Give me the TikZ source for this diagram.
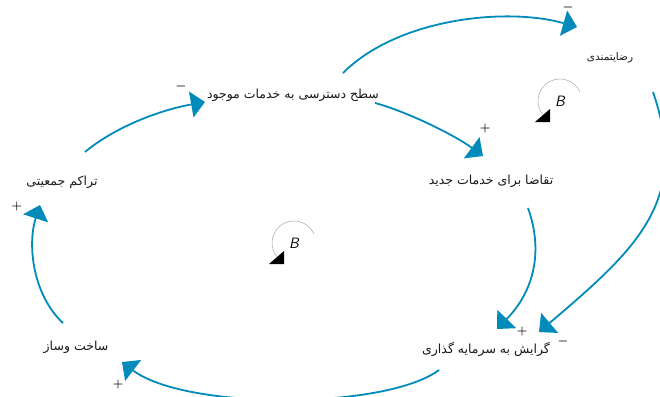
\documentclass[tikz,border=0pt]{standalone}
\usepackage{fontspec}
\newfontfamily\farsi[Script=Arabic]{DejaVu Sans}
\TeXXeTstate=1
\usetikzlibrary{arrows.meta}
\definecolor{cldblue}{RGB}{0,139,187}

\begin{document}
\begin{tikzpicture}[x=1pt,y=-1pt,
  var/.style={font=\farsi\fontsize{12.5}{15}\selectfont,text=black!90,inner sep=1pt},
  link/.style={cldblue,line width=1.8pt,-{Triangle[length=14pt,width=26pt]}},
  sgn/.style={font=\fontsize{13}{13}\selectfont\boldmath,inner sep=0pt},
  loopsign/.style={font=\fontsize{15}{15}\selectfont\sffamily\itshape,inner sep=0pt}]
\useasboundingbox (0,0) rectangle (660,396);
\clip (0,0) rectangle (660,396);
\node[var] (tarakom) at (62,182) {\beginR تراکم جمعیتی\endR};
\node[var] (sath) at (293,95) {\beginR سطح دسترسی به خدمات موجود\endR};
\node[var] (taghaza) at (491,181) {\beginR تقاضا برای خدمات جدید\endR};
\node[var,font=\farsi\fontsize{10.5}{12}\selectfont] (rezayat) at (610,58) {\beginR رضایتمندی\endR};
\node[var] (gerayesh) at (486,349) {\beginR گرایش به سرمایه گذاری\endR};
\node[var] (sakht) at (76,347) {\beginR ساخت وساز\endR};
\draw[link] ([shift={(23,-30)}]tarakom.center) .. controls +(30,-25) and +(-45,8) .. ([shift={(-88,7)}]sath.center);
\draw[link] ([shift={(50,-22)}]sath.center) .. controls +(55,-55) and +(-70,-20) .. ([shift={(-33,-31)}]rezayat.center);
\draw[link] ([shift={(82,8)}]sath.center) .. controls +(30,8) and +(-30,-22) .. ([shift={(-8,-25)}]taghaza.center);
\draw[link] ([shift={(43,34)}]rezayat.center) .. controls +(37,108) and +(100,-85) .. ([shift={(53,-17)}]gerayesh.center);
\draw[link] ([shift={(37,27)}]taghaza.center) .. controls +(15,42) and +(38,-39) .. ([shift={(11,-20)}]gerayesh.center);
\draw[link] ([shift={(-47,21)}]gerayesh.center) .. controls +(-54,40) and +(63,48) .. ([shift={(46,15)}]sakht.center);
\draw[link] ([shift={(-13,-24)}]sakht.center) .. controls +(-30,-28) and +(-13,40) .. ([shift={(-22,23)}]tarakom.center);
\node[sgn] (sgnone) at ([shift={(-112,-9)}]sath.center) {$-$};
\node[sgn] (sgntwo) at ([shift={(-42,-50)}]rezayat.center) {$-$};
\node[sgn] (sgnthree) at ([shift={(-6,-53)}]taghaza.center) {$+$};
\node[sgn] (sgnfour) at ([shift={(77,-8)}]gerayesh.center) {$-$};
\node[sgn] (sgnfive) at ([shift={(36,-18)}]gerayesh.center) {$+$};
\node[sgn] (sgnsix) at ([shift={(42,37)}]sakht.center) {$+$};
\node[sgn] (sgnseven) at ([shift={(-45,24)}]tarakom.center) {$+$};
\foreach \n/\x/\y in {loopone/294/243,looptwo/560/101}{
  \node[loopsign] (\n) at (\x,\y) {B};
  \draw[gray!70,line width=0.5pt] ([shift={(-25:22)}]\n.center) arc[start angle=-25,end angle=-218,radius=22];
  \fill ([shift={(-10,8)}]\n.center) -- ++(-15,13) -- ++(15,0) -- cycle;
}
\end{tikzpicture}
\end{document}
